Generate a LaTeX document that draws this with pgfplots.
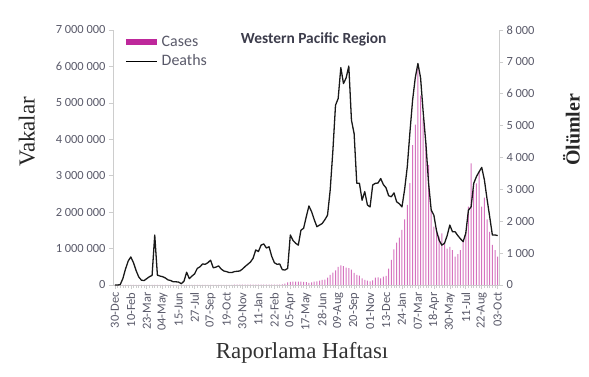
\documentclass[border=0pt]{standalone}
\usepackage{pgfplots}
\pgfplotsset{compat=1.18}
\usepackage{pgfplotstable}
\usepackage{fontspec}
\setmainfont{Carlito}
\newfontfamily\seriffont{Liberation Serif}
\definecolor{tickc}{RGB}{89,89,105}
\definecolor{casec}{RGB}{190,40,155}
\definecolor{axc}{RGB}{205,205,205}
\newcommand{\ts}{\hspace{0.22em}}
\pgfplotstableread{
w c d
0 0 0
1 100 0
2 1000 10
3 3000 200
4 5000 500
5 6000 750
6 5000 880
7 4000 700
8 2000 450
9 1500 250
10 1500 150
11 2000 140
12 2500 200
13 3000 260
14 3000 300
15 2500 1570
16 2000 310
17 1500 280
18 1500 260
19 1500 220
20 1500 160
21 1500 140
22 2000 100
23 2000 100
24 2500 90
25 3000 40
26 3000 120
27 3500 400
28 4000 200
29 4500 280
30 5000 350
31 5500 520
32 6000 570
33 6000 660
34 5500 650
35 5000 700
36 5000 780
37 5000 540
38 5000 560
39 5000 600
40 5000 500
41 5500 440
42 6000 420
43 6000 390
44 6500 390
45 7000 420
46 7000 430
47 7500 440
48 8000 500
49 8000 580
50 8500 650
51 9000 720
52 9000 840
53 9000 1100
54 8500 1050
55 8000 1250
56 8000 1290
57 7500 1160
58 7000 1200
59 7000 900
60 7500 700
61 8000 650
62 9000 660
63 20000 480
64 40000 470
65 70000 520
66 85000 1570
67 95000 1400
68 90000 1310
69 95000 1250
70 90000 1720
71 85000 1780
72 80000 2140
73 60000 2480
74 70000 2300
75 90000 2050
76 100000 1830
77 120000 1880
78 140000 1930
79 150000 2050
80 200000 2190
81 280000 2980
82 340000 4200
83 400000 5640
84 500000 5850
85 540000 6820
86 520000 6320
87 480000 6500
88 460000 6870
89 420000 5170
90 330000 4750
91 280000 3190
92 260000 3190
93 180000 2660
94 140000 2930
95 120000 2510
96 100000 2450
97 130000 3140
98 200000 3190
99 210000 3200
100 180000 3340
101 230000 3150
102 250000 3050
103 450000 2800
104 690000 2770
105 980000 2890
106 1160000 2610
107 1300000 2550
108 1510000 2450
109 1800000 3000
110 2200000 3710
111 2800000 4800
112 3840000 5800
113 4400000 6500
114 6000000 6950
115 5200000 6500
116 4580000 5400
117 3890000 4440
118 3300000 3200
119 2060000 2350
120 1600000 2190
121 1460000 1700
122 1330000 1400
123 1420000 1250
124 1140000 1310
125 1000000 1550
126 1050000 1880
127 960000 1670
128 780000 1670
129 850000 1550
130 960000 1450
131 1200000 1360
132 1460000 1620
133 2150000 2350
134 3340000 2450
135 2610000 3190
136 2790000 3400
137 3100000 3550
138 2150000 3690
139 2400000 3300
140 1800000 2700
141 1460000 2140
142 1100000 1570
143 960000 1570
144 780000 1550
}\data
\begin{document}
\begin{tikzpicture}
\useasboundingbox (-113bp,-92bp) rectangle (476bp,285bp);
\begin{axis}[
  scale only axis, width=386bp, height=255bp,
  at={(0,0)}, anchor=south west,
  xmin=-0.7, xmax=144.5, ymin=0, ymax=7000000,
  scaled y ticks=false,
  axis y line*=left, axis x line*=bottom,
  axis line style={axc, line width=0.8pt},
  tick style={axc, line width=0.6pt},
  tick align=outside,
  major tick length=4bp, minor tick length=3bp,
  ytick={0,1000000,2000000,3000000,4000000,5000000,6000000,7000000},
  yticklabels={0,1\ts000\ts000,2\ts000\ts000,3\ts000\ts000,4\ts000\ts000,5\ts000\ts000,6\ts000\ts000,7\ts000\ts000},
  xtick={0,6,...,144},
  xticklabels={30-Dec,10-Feb,23-Mar,04-May,15-Jun,27-Jul,07-Sep,19-Oct,30-Nov,11-Jan,22-Feb,05-Apr,17-May,28-Jun,09-Aug,20-Sep,01-Nov,13-Dec,24-Jan,07-Mar,18-Apr,30-May,11-Jul,22-Aug,03-Oct},
  minor xtick={0,...,144},
  xticklabel style={rotate=90, anchor=east, font=\fontsize{12.5}{13}\selectfont, text=tickc},
  yticklabel style={font=\fontsize{12.5}{13}\selectfont, text=tickc},
  ylabel={Vakalar},
  ylabel style={font=\seriffont\fontsize{23}{26}\selectfont, text=black!85, at={(axis description cs:-0.223,0.6)}, anchor=center},
  xlabel={Raporlama Haftası},
  xlabel style={font=\seriffont\fontsize{23}{26}\selectfont, text=black!80, at={(axis description cs:0.49,-0.267)}, anchor=center},
  legend style={draw=none, fill=none, at={(axis description cs:0.026,0.985)}, anchor=north west,
    font=\fontsize{16}{18}\selectfont, text=tickc, row sep=3bp, inner sep=0pt},
  legend cell align=left,
  legend image code/.code={\draw[#1] (0bp,0bp) -- (31bp,0bp);},
]
\addplot[ybar, bar width=1.0bp, fill=casec!65, draw=none, forget plot] table[x=w, y=c] {\data};
\addlegendimage{casec, line width=5.5bp}
\addlegendentry{Cases}
\addlegendimage{black, line width=1.2pt}
\addlegendentry{Deaths}
\node[font=\bfseries\fontsize{15.5}{17}\selectfont, text={rgb,255:red,60;green,60;blue,75}] at (axis description cs:0.52,0.965) {Western Pacific Region};
\end{axis}
\begin{axis}[
  scale only axis, width=386bp, height=255bp,
  at={(0,0)}, anchor=south west,
  xmin=-0.7, xmax=144.5, ymin=0, ymax=8000,
  scaled y ticks=false,
  axis y line*=right, axis x line=none,
  axis line style={axc, line width=0.8pt},
  tick style={axc, line width=0.6pt},
  tick align=outside, major tick length=4bp,
  ytick={0,1000,2000,3000,4000,5000,6000,7000,8000},
  yticklabels={0,1\ts000,2\ts000,3\ts000,4\ts000,5\ts000,6\ts000,7\ts000,8\ts000},
  yticklabel style={font=\fontsize{12.5}{13}\selectfont, text=tickc},
  clip=false,
]
\addplot[black!90, line width=1.3pt, line join=round] table[x=w, y=d] {\data};
\node[rotate=90, font=\seriffont\bfseries\fontsize{20}{22}\selectfont, text=black!85] at (axis description cs:1.188,0.608) {Ölümler};
\end{axis}
\end{tikzpicture}
\end{document}
